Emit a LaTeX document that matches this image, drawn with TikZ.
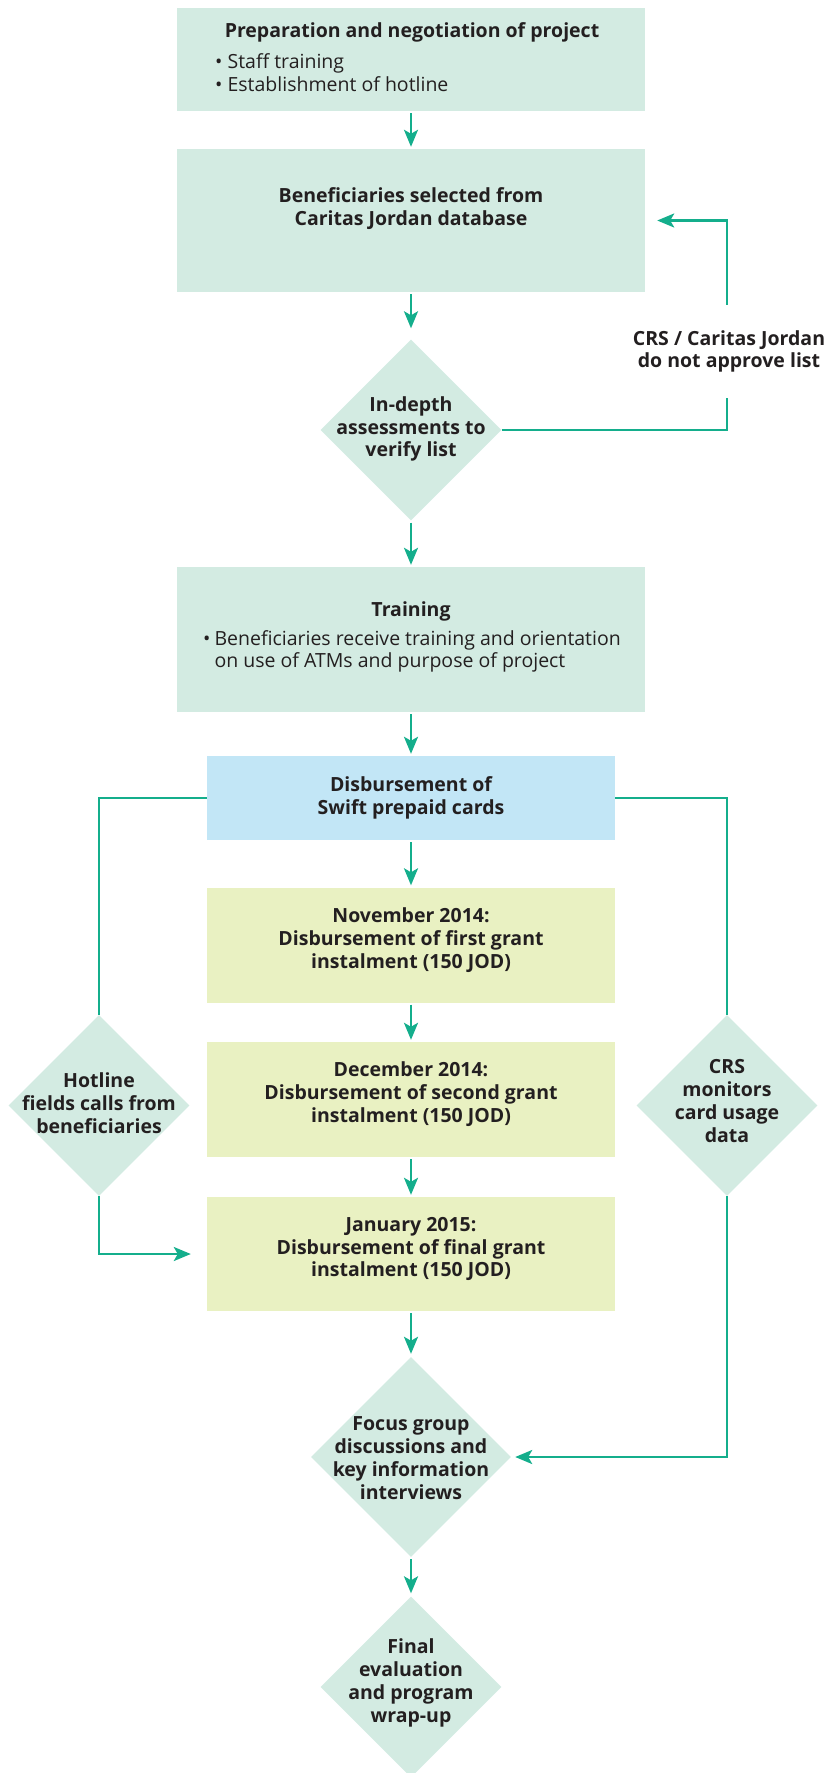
\documentclass[tikz,border=0pt]{standalone}
\usepackage{fontspec}
\setmainfont{Open Sans}
\usetikzlibrary{arrows.meta,shapes.geometric}
\definecolor{boxg}{HTML}{D3EBE2}
\definecolor{boxb}{HTML}{C2E6F6}
\definecolor{boxy}{HTML}{E9F1C2}
\definecolor{arr}{HTML}{14AE8C}
\definecolor{txt}{HTML}{231F20}
\begin{document}
\begin{tikzpicture}[x=1pt,y=-1pt,
  every node/.style={text=txt, inner sep=0pt},
  bt/.style={font=\fontsize{19.5}{22.8}\selectfont\bfseries, align=center},
  rt/.style={font=\fontsize{19.5}{22.8}\selectfont, align=left},
  boxnode/.style={draw=none, fill=#1, minimum width=468pt},
  dnode/.style={diamond, aspect=1, fill=boxg, minimum width=#1, minimum height=#1},
  line/.style={draw=arr, line width=2.6pt},
  conn/.style={line, -{Stealth[length=17pt, width=14pt, inset=4pt]}, shorten <=2pt, shorten >=2pt}]
\useasboundingbox (0,0) rectangle (833,1773);

% boxes
\node[boxnode=boxg, minimum height=103pt] (b1) at (411,59.5) {};
\node[boxnode=boxg, minimum height=143pt] (b2) at (411,220.5) {};
\node[dnode=181pt] (d1) at (411,430) {};
\node[boxnode=boxg, minimum height=145pt] (b3) at (411,639.5) {};
\node[boxnode=boxb, minimum width=408pt, minimum height=84pt] (dis) at (411,798) {};
\node[boxnode=boxy, minimum width=408pt, minimum height=115pt] (nov) at (411,945) {};
\node[boxnode=boxy, minimum width=408pt, minimum height=115pt] (dec) at (411,1099.5) {};
\node[boxnode=boxy, minimum width=408pt, minimum height=114pt] (jan) at (411,1254) {};
\node[dnode=181pt] (hot) at (99,1105.5) {};
\node[dnode=181pt] (crs) at (727,1105.5) {};
\node[dnode=200pt] (foc) at (411,1457) {};
\node[dnode=181pt] (fin) at (411,1687) {};

% texts
\node[bt] (t1a) at (412,32) {Preparation and negotiation of project};
\node[rt, anchor=west] (t1b) at (215,73) {\textbullet\ Staff training\\\textbullet\ Establishment of hotline};
\node[bt] (t2) at (411,208.5) {Beneficiaries selected from\\Caritas Jordan database};
\node[bt] (t3) at (411,429) {In-depth\\assessments to\\verify list};
\node[bt] (t4a) at (411,611) {Training};
\node[rt, anchor=west] (t4b) at (203,652) {\begin{tabular}{@{}l@{\hspace{4pt}}l@{}}\textbullet & Beneficiaries receive training and orientation\\ & on use of ATMs and purpose of project\end{tabular}};
\node[bt] (t5) at (411,798) {Disbursement of\\Swift prepaid cards};
\node[bt] (t6) at (411,940) {November 2014:\\Disbursement of first grant\\instalment (150 JOD)};
\node[bt] (t7) at (411,1094) {December 2014:\\Disbursement of second grant\\instalment (150 JOD)};
\node[bt] (t8) at (411,1249) {January 2015:\\Disbursement of final grant\\instalment (150 JOD)};
\node[bt] (t9) at (99,1103) {Hotline\\fields calls from\\beneficiaries};
\node[bt] (t10) at (727,1101) {CRS\\monitors\\card usage\\data};
\node[bt] (t11) at (411,1458) {Focus group\\discussions and\\key information\\interviews};
\node[bt] (t12) at (411,1683) {Final\\evaluation\\and program\\wrap-up};
\node[bt, minimum height=93pt] (lab) at (729,351.5) {CRS / Caritas Jordan\\do not approve list};

% connectors
\draw[conn] (b1.south) -- (b2.north);
\draw[conn, shorten >=11pt] (b2.south) -- (d1.north);
\draw[conn] (d1.south) -- (b3.north);
\draw[conn] (b3.south) -- (dis.north);
\draw[conn] (dis.south) -- (nov.north);
\draw[conn] (nov.south) -- (dec.north);
\draw[conn] (dec.south) -- (jan.north);
\draw[conn, shorten >=3pt] (jan.south) -- (foc.north);
\draw[conn, shorten >=3pt] (foc.south) -- (fin.north);
\draw[line] (d1.east) -| ([xshift=-2pt]lab.south);
\draw[conn, shorten <=0pt, shorten >=12pt] ([xshift=-2pt]lab.north) |- (b2.east);
\draw[line] (dis.west) -| (hot.north);
\draw[conn, shorten <=0pt, shorten >=16pt] (hot.south) |- (jan.west);
\draw[line] (dis.east) -| (crs.north);
\draw[conn, shorten <=0pt, shorten >=4pt] (crs.south) |- (foc.east);
\end{tikzpicture}
\end{document}
